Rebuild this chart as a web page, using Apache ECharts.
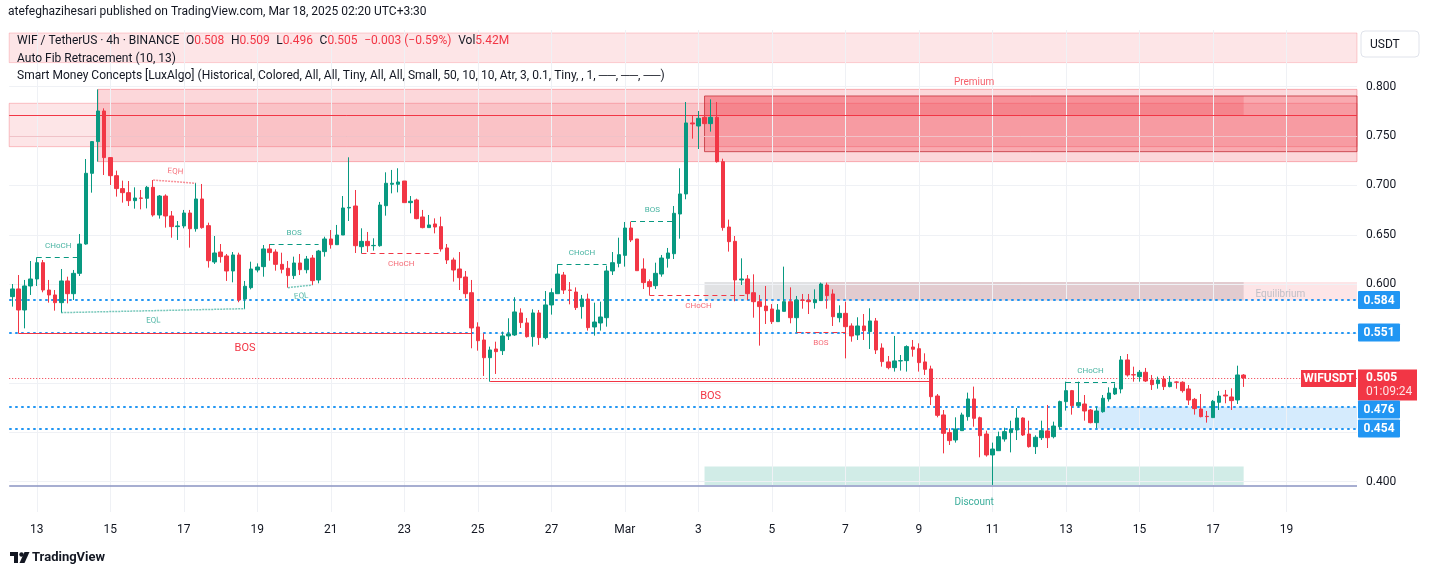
<!DOCTYPE html>
<html>
<head>
<meta charset="utf-8">
<title>WIF / TetherUS 4h</title>
<script src="https://cdn.jsdelivr.net/npm/echarts@6/dist/echarts.min.js"></script>
<style>
  html, body { margin: 0; padding: 0; background: #fff; }
  #chart { width: 1433px; height: 576px; }
</style>
</head>
<body>
<div id="chart"></div>
<script>
// 4h candles, Feb 12 08:00 -> Mar 17 20:00
var opens = [
  0.5874,0.5952,0.5739,0.5982,0.6053,0.6218,0.5941,0.5891,0.5813,0.6033,0.5904,0.6110,
  0.6407,0.7123,0.7444,0.7754,0.7282,0.7099,0.6968,0.6927,0.6846,0.6873,0.6870,0.6981,
  0.6701,0.6893,0.6691,0.6583,0.6590,0.6721,0.6562,0.6863,0.6593,0.6225,0.6326,0.6286,
  0.6134,0.6296,0.5850,0.5965,0.6144,0.6178,0.6357,0.6326,0.6201,0.6161,0.6087,0.6215,
  0.6147,0.6265,0.6043,0.6330,0.6458,0.6400,0.6498,0.6772,0.6792,0.6380,0.6434,0.6390,
  0.6390,0.6795,0.7012,0.7012,0.7045,0.6826,0.6853,0.6681,0.6573,0.6610,0.6583,0.6367,
  0.6245,0.6154,0.6073,0.5914,0.5567,0.5435,0.5256,0.5344,0.5327,0.5476,0.5486,0.5709,
  0.5608,0.5469,0.5709,0.5459,0.5790,0.5904,0.6093,0.5941,0.5921,0.5773,0.5850,0.5567,
  0.5607,0.5661,0.6134,0.6211,0.6292,0.6569,0.6458,0.6154,0.6026,0.5985,0.6103,0.6262,
  0.6309,0.6711,0.6914,0.7633,0.7602,0.7690,0.7626,0.7690,0.7241,0.6579,0.6434,0.6043,
  0.6053,0.5914,0.5823,0.5779,0.5749,0.5621,0.5725,0.5823,0.5661,0.5840,0.5837,0.5813,
  0.5834,0.5992,0.5901,0.5661,0.5705,0.5577,0.5486,0.5577,0.5520,0.5628,0.5354,0.5213,
  0.5155,0.5223,0.5226,0.5364,0.5347,0.5213,0.5142,0.4868,0.4676,0.4497,0.4422,0.4517,
  0.4659,0.4838,0.4648,0.4483,0.4271,0.4314,0.4432,0.4497,0.4524,0.4645,0.4483,0.4355,
  0.4446,0.4514,0.4456,0.4557,0.4811,0.4922,0.4770,0.4787,0.4726,0.4598,0.4709,0.4838,
  0.4888,0.4939,0.5233,0.5084,0.5064,0.5108,0.5030,0.4993,0.5040,0.4963,0.5010,0.5007,
  0.4939,0.4834,0.4736,0.4662,0.4649,0.4804,0.4878,0.4858,0.4828,0.508
];
var closes = [
  0.5952,0.5739,0.5982,0.6053,0.6218,0.5941,0.5891,0.5813,0.6033,0.5904,0.6110,0.6407,
  0.7123,0.7444,0.7754,0.7282,0.7099,0.6968,0.6927,0.6846,0.6873,0.6870,0.6981,0.6701,
  0.6893,0.6691,0.6583,0.6590,0.6721,0.6562,0.6863,0.6573,0.6238,0.6316,0.6279,0.6134,
  0.6296,0.5840,0.5979,0.6154,0.6174,0.6357,0.6320,0.6201,0.6151,0.6087,0.6215,0.6147,
  0.6255,0.6036,0.6336,0.6458,0.6400,0.6498,0.6772,0.6778,0.6390,0.6434,0.6390,0.6393,
  0.6802,0.7022,0.7022,0.7035,0.6826,0.6840,0.6664,0.6573,0.6600,0.6579,0.6357,0.6245,
  0.6144,0.6066,0.5904,0.5557,0.5428,0.5256,0.5334,0.5317,0.5476,0.5496,0.5719,0.5611,
  0.5469,0.5709,0.5459,0.5790,0.5914,0.6103,0.5941,0.5938,0.5763,0.5850,0.5560,0.5617,
  0.5668,0.6134,0.6218,0.6299,0.6569,0.6448,0.6137,0.6016,0.5975,0.6110,0.6265,0.6316,
  0.6718,0.6914,0.7633,0.7623,0.7680,0.7626,0.7690,0.7241,0.6573,0.6431,0.6043,0.6053,
  0.5904,0.5823,0.5773,0.5732,0.5621,0.5739,0.5823,0.5661,0.5840,0.5837,0.5823,0.5843,
  0.6002,0.5884,0.5671,0.5705,0.5570,0.5476,0.5577,0.5530,0.5628,0.5334,0.5216,0.5155,
  0.5223,0.5226,0.5368,0.5341,0.5206,0.5138,0.4861,0.4672,0.4490,0.4416,0.4534,0.4676,
  0.4838,0.4642,0.4466,0.4271,0.4331,0.4456,0.4507,0.4534,0.4645,0.4473,0.4355,0.4450,
  0.4517,0.4446,0.4564,0.4811,0.4922,0.4770,0.4801,0.4716,0.4598,0.4716,0.4845,0.4898,
  0.4946,0.5233,0.5081,0.5081,0.5108,0.5020,0.4983,0.5030,0.4963,0.5007,0.5007,0.4922,
  0.4827,0.4740,0.4659,0.4659,0.4814,0.4868,0.4868,0.4821,0.5081,0.505
];
var lows = [
  0.5773,0.5503,0.5553,0.5891,0.5982,0.5918,0.5813,0.5732,0.5712,0.5806,0.5840,0.6083,
  0.6400,0.6927,0.7241,0.7106,0.7005,0.6887,0.6826,0.6792,0.6765,0.6758,0.6768,0.6684,
  0.6664,0.6573,0.6471,0.6448,0.6566,0.6370,0.6532,0.6562,0.6168,0.6205,0.6218,0.6033,
  0.6019,0.5817,0.5752,0.5948,0.6120,0.6076,0.6238,0.6137,0.6110,0.5965,0.6053,0.6093,
  0.6110,0.5992,0.6009,0.6279,0.6360,0.6397,0.6498,0.6640,0.6316,0.6313,0.6326,0.6340,
  0.6380,0.6694,0.6920,0.6930,0.6826,0.6718,0.6657,0.6566,0.6573,0.6515,0.6330,0.6205,
  0.6026,0.5941,0.5857,0.5351,0.5327,0.5071,0.5013,0.5091,0.5283,0.5435,0.5476,0.5557,
  0.5459,0.5368,0.5385,0.5442,0.5692,0.5904,0.5901,0.5796,0.5739,0.5651,0.5530,0.5479,
  0.5530,0.5570,0.6093,0.6171,0.6178,0.6427,0.6137,0.5951,0.5891,0.5951,0.6076,0.6168,
  0.6255,0.6461,0.6860,0.7474,0.7369,0.7626,0.7545,0.7231,0.6542,0.6330,0.5827,0.5992,
  0.5840,0.5661,0.5378,0.5597,0.5597,0.5621,0.5725,0.5604,0.5513,0.5752,0.5698,0.5752,
  0.5834,0.5752,0.5577,0.5614,0.5249,0.5418,0.5435,0.5435,0.5344,0.5293,0.5165,0.5138,
  0.5115,0.5125,0.5115,0.5266,0.5115,0.5081,0.4777,0.4652,0.4287,0.4372,0.4396,0.4517,
  0.4618,0.4557,0.4247,0.4254,0.3967,0.4314,0.4406,0.4297,0.4422,0.4463,0.4345,0.4281,
  0.4422,0.4341,0.4439,0.4530,0.4720,0.4679,0.4753,0.4618,0.4591,0.4541,0.4699,0.4811,
  0.4878,0.4895,0.5064,0.5013,0.5013,0.5010,0.4929,0.4942,0.4929,0.4956,0.4942,0.4902,
  0.4777,0.4679,0.4652,0.4598,0.4649,0.4726,0.4794,0.4726,0.4787,0.496
];
var highs = [
  0.6002,0.6093,0.6043,0.6235,0.6272,0.6245,0.6043,0.5941,0.6154,0.6076,0.6144,0.6508,
  0.7268,0.7450,0.7973,0.7781,0.7285,0.7150,0.7049,0.7045,0.6981,0.6954,0.6995,0.7055,
  0.6903,0.6910,0.6741,0.6640,0.6752,0.6752,0.7022,0.7015,0.6623,0.6488,0.6407,0.6306,
  0.6326,0.6319,0.6033,0.6228,0.6211,0.6397,0.6407,0.6353,0.6319,0.6235,0.6279,0.6306,
  0.6286,0.6296,0.6347,0.6481,0.6549,0.6600,0.6893,0.7285,0.6954,0.6566,0.6529,0.6465,
  0.6833,0.7133,0.7157,0.7174,0.7045,0.6893,0.6866,0.6752,0.6701,0.6667,0.6684,0.6407,
  0.6269,0.6326,0.6134,0.6043,0.5614,0.5503,0.5368,0.5418,0.5520,0.5655,0.5868,0.5756,
  0.5658,0.5746,0.5739,0.5931,0.5958,0.6201,0.6124,0.6022,0.5968,0.5891,0.5904,0.5813,
  0.5823,0.6188,0.6326,0.6471,0.6630,0.6634,0.6458,0.6262,0.6049,0.6218,0.6296,0.6367,
  0.6792,0.7174,0.7845,0.7710,0.7754,0.7690,0.7872,0.7845,0.7271,0.6654,0.6488,0.6262,
  0.6093,0.6100,0.5891,0.5982,0.5799,0.5799,0.6178,0.5968,0.5881,0.5901,0.5901,0.5948,
  0.6016,0.6016,0.5948,0.5786,0.5823,0.5604,0.5665,0.5698,0.5756,0.5658,0.5401,0.5273,
  0.5476,0.5283,0.5381,0.5435,0.5401,0.5300,0.5175,0.4888,0.4726,0.4541,0.4652,0.4699,
  0.4902,0.4963,0.4659,0.4517,0.4396,0.4507,0.4547,0.4618,0.4746,0.4652,0.4618,0.4470,
  0.4618,0.4777,0.4608,0.4821,0.5013,0.4929,0.5013,0.4878,0.4736,0.4760,0.4878,0.4956,
  0.4996,0.5273,0.5293,0.5165,0.5131,0.5152,0.5081,0.5064,0.5071,0.5071,0.5017,0.5017,
  0.4979,0.4848,0.4888,0.4716,0.4828,0.4919,0.4929,0.4946,0.5175,0.509
];

var gridPrices = [0.40, 0.45, 0.50, 0.55, 0.60, 0.65, 0.70, 0.75, 0.80];
var priceTicks = [0.40, 0.60, 0.65, 0.70, 0.75, 0.80];
var keyLevels = [0.584, 0.551, 0.476, 0.454];
var lastPrice = 0.505;
var countdown = '01:09:24';
var monthNames = ['Jan', 'Feb', 'Mar', 'Apr'];

// structure breaks: [fromBar, toBar, price, text, bullish]
var structure = [
  [4, 11, 0.6272, 'CHoCH', true],
  [42, 50, 0.6404, 'BOS', true],
  [57, 70, 0.6313, 'CHoCH', false],
  [89, 97, 0.6201, 'CHoCH', true],
  [101, 108, 0.6637, 'BOS', true],
  [104, 120, 0.5887, 'CHoCH', false],
  [128, 136, 0.5513, 'BOS', false],
  [172, 180, 0.5006, 'CHoCH', true]
];
var swingBos = [
  [1, 75, 0.5503],
  [78, 150, 0.5013]
];
// equal highs / lows: [fromBar, fromPrice, toBar, toPrice, text]
var equals = [
  [23, 0.7055, 30, 0.7022, 'EQH'],
  [8, 0.5712, 38, 0.5752, 'EQL'],
  [45, 0.5965, 49, 0.5992, 'EQL']
];

var GREEN = '#089981', RED = '#f23645', BLUE = '#2196f3', INK = '#131722';
var FONT = 'Roboto, "Noto Sans", sans-serif';
var nCats = 220;

var categories = [];
var t0 = Date.UTC(2025, 1, 12, 8);
for (var i = 0; i < nCats; i++) {
  var d = new Date(t0 + i * 4 * 3600 * 1000);
  categories.push((d.getUTCMonth()) + '-' + d.getUTCDate() + '-' + d.getUTCHours());
}
function parseCat(s) {
  var a = String(s).split('-');
  return { m: +a[0], d: +a[1], h: +a[2] };
}
function isDayTick(s) {
  var c = parseCat(s);
  return c.h === 0 && c.d % 2 === 1;
}
var dayTickIdx = [];
categories.forEach(function (c, i) { if (isDayTick(c)) dayTickIdx.push(i); });

var candleData = opens.map(function (o, i) {
  return [o, closes[i], lows[i], highs[i]];
});

// grid lines + price scale labels
var gridLines = gridPrices.map(function (p) {
  var show = priceTicks.indexOf(p) >= 0;
  return {
    yAxis: p,
    label: show ? {
      show: true, position: 'end', distance: 9, formatter: p.toFixed(3),
      color: INK, fontSize: 12, fontFamily: FONT
    } : { show: false }
  };
}).concat(dayTickIdx.map(function (i) { return { xAxis: i }; }));

function band(p1, p2, fill, border, fromBar, toBar) {
  var a = { yAxis: p1, itemStyle: { color: fill, borderColor: border || 'transparent', borderWidth: border ? 1 : 0 } };
  var b = { yAxis: p2 };
  if (fromBar != null) a.xAxis = fromBar;
  if (toBar != null) b.xAxis = toBar;
  return [a, b];
}

var zones = [
  band(0.8244, 0.8544, 'rgba(242,54,69,0.13)', 'rgba(242,54,69,0.22)'),
  band(0.7393, 0.7832, 'rgba(242,54,69,0.13)', 'rgba(242,54,69,0.28)'),
  band(0.7241, 0.7973, 'rgba(242,54,69,0.20)', 'rgba(242,54,69,0.35)', 14),
  band(0.7342, 0.7906, 'rgba(242,54,69,0.28)', 'rgba(190,40,50,0.75)', 113),
  band(0.7714, 0.7906, 'rgba(242,54,69,0.22)', null, 113, 201),
  band(0.5834, 0.6023, 'rgba(120,123,134,0.22)', null, 113, 201),
  band(0.5834, 0.6023, 'rgba(242,54,69,0.13)', null, 133),
  band(0.3967, 0.4154, 'rgba(8,153,129,0.19)', null, 113, 201),
  band(0.4540, 0.4760, 'rgba(33,150,243,0.19)', null, 177)
];

var lines = [];
lines.push({ yAxis: 0.7714, lineStyle: { color: RED, width: 1, type: 'solid' } });
lines.push({ yAxis: 0.7494, lineStyle: { color: 'rgba(242,54,69,0.25)', width: 1, type: 'solid' } });
lines.push({ yAxis: 0.3955, lineStyle: { color: '#8a93c2', width: 1.5, type: 'solid' } });
keyLevels.forEach(function (p) {
  lines.push({ yAxis: p, lineStyle: { color: BLUE, width: 2, type: [2.5, 3.5] } });
});
lines.push({ yAxis: lastPrice, lineStyle: { color: RED, width: 1, type: [1, 2] } });
structure.forEach(function (s) {
  var col = s[4] ? GREEN : RED;
  lines.push([
    {
      coord: [s[0], s[2]],
      lineStyle: { color: col, width: 1, type: [5, 4] },
      label: {
        show: true, formatter: s[3], position: s[4] ? 'insideMiddleTop' : 'insideMiddleBottom',
        distance: 7, color: col, fontSize: 8, fontFamily: FONT, opacity: 0.75
      }
    },
    { coord: [s[1], s[2]] }
  ]);
});
swingBos.forEach(function (s) {
  lines.push([
    {
      coord: [s[0], s[2]],
      lineStyle: { color: RED, width: 1, type: 'solid' },
      label: {
        show: true, formatter: 'BOS', position: 'insideMiddleBottom',
        distance: 9, color: RED, fontSize: 11, fontFamily: FONT
      }
    },
    { coord: [s[1], s[2]] }
  ]);
});
equals.forEach(function (e) {
  var isHigh = e[4] === 'EQH';
  var col = isHigh ? 'rgba(242,54,69,0.55)' : 'rgba(8,153,129,0.55)';
  lines.push([
    {
      coord: [e[0], e[1]],
      lineStyle: { color: col, width: 1.5, type: [2, 1] },
      label: {
        show: true, formatter: e[4], position: isHigh ? 'insideMiddleTop' : 'insideMiddleBottom',
        distance: 6, color: isHigh ? RED : GREEN, fontSize: 8, fontFamily: FONT, opacity: 0.7
      }
    },
    { coord: [e[2], e[3]] }
  ]);
});

var zoneLabels = [
  { value: [157, 0.8058], text: 'Premium', color: RED },
  { value: [157, 0.3805], text: 'Discount', color: GREEN },
  { value: [207, 0.5921], text: 'Equilibrium', color: '#b2b5be' }
];

var option = {
  animation: false,
  backgroundColor: '#ffffff',
  grid: { left: 9.2, right: 76, top: 30, bottom: 64 },
  xAxis: {
    type: 'category',
    data: categories,
    boundaryGap: true,
    axisLine: { show: false },
    axisTick: { show: false },
    splitLine: { show: false },
    axisLabel: {
      interval: function (idx, val) { return isDayTick(val); },
      formatter: function (val) {
        var c = parseCat(val);
        return c.d === 1 ? monthNames[c.m] : String(c.d);
      },
      color: INK, fontSize: 12, fontFamily: FONT, margin: 12
    }
  },
  yAxis: {
    type: 'value',
    position: 'right',
    min: 0.36932,
    max: 0.85742,
    scale: true,
    axisLine: { show: false },
    axisTick: { show: false },
    splitLine: { show: false },
    axisLabel: { show: false }
  },
  series: [
    {
      name: 'grid', type: 'line', data: [], z: 0, silent: true,
      markLine: {
        silent: true, symbol: ['none', 'none'], animation: false, precision: 6,
        label: { show: false },
        lineStyle: { color: '#eff1f5', width: 1, type: 'solid' },
        data: gridLines
      }
    },
    {
      name: 'zones', type: 'line', data: [], z: 1, silent: true,
      markArea: { silent: true, animation: false, data: zones }
    },
    {
      name: 'levels', type: 'line', data: [], z: 2, silent: true,
      markLine: {
        silent: true, symbol: ['none', 'none'], animation: false, precision: 6,
        label: { show: false },
        data: lines
      }
    },
    {
      name: 'WIFUSDT', type: 'candlestick', data: candleData, z: 5,
      barWidth: 4,
      itemStyle: {
        color: GREEN, color0: RED,
        borderColor: GREEN, borderColor0: RED, borderWidth: 1
      }
    },
    {
      name: 'zoneLabels', type: 'scatter', z: 6, silent: true,
      symbolSize: 0,
      data: zoneLabels.map(function (z) {
        return {
          value: z.value,
          label: { show: true, formatter: z.text, color: z.color, fontSize: 10, fontFamily: FONT, position: 'inside', offset: [0, 2] }
        };
      })
    }
  ]
};

var chart = echarts.init(document.getElementById('chart'));
chart.setOption(option);

// price tags on the scale, title and legend
var axisX = chart.getWidth() - 76 + 1;
function py(p) { return chart.convertToPixel({ yAxisIndex: 0 }, p); }
var g = [];

var yLast = py(lastPrice);
g.push({ type: 'rect', shape: { x: axisX, y: yLast - 8.5, width: 59, height: 31 }, style: { fill: RED }, z: 100 });
g.push({ type: 'text', style: { text: lastPrice.toFixed(3), x: axisX + 8, y: yLast, verticalAlign: 'middle', fill: '#fff', font: 'bold 12px ' + FONT }, z: 101 });
g.push({ type: 'text', style: { text: countdown, x: axisX + 8, y: yLast + 14, verticalAlign: 'middle', fill: 'rgba(255,255,255,0.85)', font: '12px ' + FONT }, z: 101 });
g.push({ type: 'rect', shape: { x: axisX - 57, y: yLast - 8, width: 55, height: 17 }, style: { fill: RED }, z: 100 });
g.push({ type: 'text', style: { text: 'WIFUSDT', x: axisX - 29.5, y: yLast + 0.5, align: 'center', verticalAlign: 'middle', fill: '#fff', font: 'bold 12px ' + FONT }, z: 101 });

var lastBottom = yLast + 22.5;
keyLevels.slice().sort(function (a, b) { return b - a; }).forEach(function (p) {
  var yc = py(p);
  var top = yc - 9;
  if (p < lastPrice && top < lastBottom) top = lastBottom;
  if (p < lastPrice) lastBottom = top + 18;
  g.push({ type: 'rect', shape: { x: axisX, y: top, width: 42, height: 18, r: 1 }, style: { fill: BLUE }, z: 100 });
  g.push({ type: 'text', style: { text: p.toFixed(3), x: axisX + 21, y: top + 9.5, align: 'center', verticalAlign: 'middle', fill: '#fff', font: 'bold 12px ' + FONT }, z: 101 });
});

// currency button
g.push({ type: 'rect', shape: { x: axisX + 3, y: 31, width: 58, height: 26, r: 4 }, style: { fill: '#fff', stroke: '#e0e3eb', lineWidth: 1 }, z: 100 });
g.push({ type: 'text', style: { text: 'USDT', x: axisX + 12, y: 44.5, verticalAlign: 'middle', fill: INK, font: '12px ' + FONT }, z: 101 });

// header
g.push({ type: 'text', style: { text: 'atefeghazihesari published on TradingView.com, Mar 18, 2025 02:20 UTC+3:30', x: 8, y: 12, verticalAlign: 'middle', fill: INK, font: '12px ' + FONT }, z: 101 });
g.push({
  type: 'text', z: 101,
  style: {
    x: 17, y: 41, verticalAlign: 'middle',
    text: '{k|WIF / TetherUS · 4h · BINANCE}  {k|O}{v|0.508}  {k|H}{v|0.509}  {k|L}{v|0.496}  {k|C}{v|0.505}  {v|−0.003 (−0.59%)}  {k|Vol}{v|5.42M}',
    rich: {
      k: { fill: INK, font: '12px ' + FONT },
      v: { fill: RED, font: '12px ' + FONT }
    }
  }
});
g.push({ type: 'text', style: { text: 'Auto Fib Retracement (10, 13)', x: 17, y: 58.5, verticalAlign: 'middle', fill: INK, font: '12px ' + FONT }, z: 101 });
g.push({ type: 'text', style: { text: 'Smart Money Concepts [LuxAlgo] (Historical, Colored, All, All, Tiny, All, All, Small, 50, 10, 10, Atr, 3, 0.1, Tiny, , 1, ──, ──, ──)', x: 17, y: 76, verticalAlign: 'middle', fill: INK, font: '12px ' + FONT }, z: 101 });

// TradingView mark
g.push({ type: 'rect', shape: { x: 10, y: 552, width: 8, height: 4 }, style: { fill: INK }, z: 101 });
g.push({ type: 'rect', shape: { x: 14, y: 552, width: 4, height: 11 }, style: { fill: INK }, z: 101 });
g.push({ type: 'circle', shape: { cx: 21.5, cy: 554.5, r: 2.2 }, style: { fill: INK }, z: 101 });
g.push({ type: 'polygon', shape: { points: [[24.5, 552], [29.5, 552], [24.5, 563], [19.5, 563]] }, style: { fill: INK }, z: 101 });
g.push({ type: 'text', style: { text: 'TradingView', x: 32, y: 558, verticalAlign: 'middle', fill: INK, font: 'bold 13px ' + FONT }, z: 101 });

chart.setOption({ graphic: g });
</script>
</body>
</html>
